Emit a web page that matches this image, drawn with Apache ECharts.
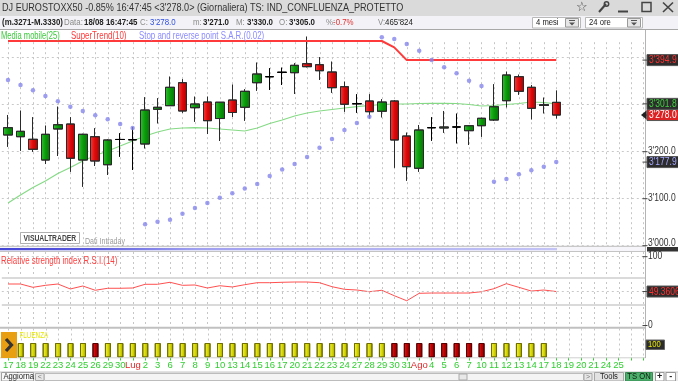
<!DOCTYPE html>
<html><head><meta charset="utf-8">
<script src="https://cdn.jsdelivr.net/npm/echarts@6/dist/echarts.min.js"></script>
<style>html,body{margin:0;padding:0;background:#fff;overflow:hidden}#c{width:678px;height:381px}</style>
</head><body><div id="c"></div>
<script>
// ---------- DATA ----------
const dayKeys = ['06-17','06-18','06-19','06-22','06-23','06-24','06-25','06-26','06-29','06-30',
 '07-01','07-02','07-03','07-06','07-07','07-08','07-09','07-10','07-13','07-14','07-15','07-16','07-17','07-20','07-21','07-22','07-23','07-24','07-27','07-28','07-29','07-30','07-31',
 '08-03','08-04','08-05','08-06','08-07','08-10','08-11','08-12','08-13','08-14','08-17','08-18',
 '08-19','08-20','08-21','08-24','08-25','pad1','pad2'];
const dayLabels = ['17','18','19','22','23','24','25','26','29','30',
 'Lug','2','3','6','7','8','9','10','13','14','15','16','17','20','21','22','23','24','27','28','29','30','31',
 'Ago','4','5','6','7','10','11','12','13','14','17','18',
 '19','20','21','24','25','',''];
const monthLabels = ['Lug','Ago'];

const opens  = [3235.5,3231.9,3226.4,3182.3,3248.3,3258.9,3182.3,3231.9,3172.3,3226.0,3225.5,3216.4,3290.2,3297.9,3346.8,3293.6,3305.7,3270.6,3310.0,3294.5,3346.8,3359.6,3368.9,3368.1,3387.2,3385.1,3369.6,3338.3,3302.1,3307.9,3286.0,3307.9,3233.4,3164.7,3251.1,3250.4,3252.6,3244.7,3255.3,3267.4,3308.5,3359.6,3337.0,3298.3,3305.0];
const closes = [3251.1,3243.4,3205.1,3237.0,3257.4,3186.0,3237.0,3180.2,3224.9,3226.0,3225.5,3288.7,3294.5,3337.0,3286.6,3301.5,3266.0,3305.3,3283.4,3328.5,3365.3,3359.6,3368.9,3383.8,3380.9,3372.3,3336.2,3300.9,3302.1,3285.1,3305.7,3224.9,3168.1,3246.2,3251.1,3252.6,3252.6,3255.3,3271.1,3295.7,3363.2,3328.5,3292.3,3300.0,3278.0];
const lows   = [3210.6,3202.1,3200.0,3173.8,3190.9,3157.4,3125.5,3169.6,3150.4,3189.4,3161.1,3207.2,3260.4,3297.9,3283.0,3263.8,3237.7,3222.8,3273.8,3266.0,3329.8,3331.3,3341.9,3322.8,3379.6,3352.6,3325.5,3285.1,3283.0,3271.1,3273.2,3166.0,3138.3,3157.4,3223.4,3240.4,3217.9,3214.3,3231.9,3266.0,3294.5,3321.3,3268.9,3281.7,3271.0];
const highs  = [3278.1,3287.2,3273.2,3255.3,3295.7,3273.2,3238.0,3249.8,3226.0,3239.1,3252.6,3315.7,3313.6,3359.6,3354.0,3317.0,3317.0,3305.7,3342.6,3332.8,3389.4,3377.5,3378.7,3388.1,3444.7,3400.9,3391.5,3348.9,3322.1,3322.1,3311.5,3309.0,3240.4,3256.8,3273.2,3286.6,3280.9,3256.0,3272.0,3343.4,3370.2,3363.8,3341.9,3314.9,3330.0];

const movingAvg25 = [3090.9,3107.9,3123.8,3137.7,3153.6,3166.4,3180.2,3191.9,3201.5,3212.1,3222.8,3233.4,3241.9,3248.3,3250.4,3251.1,3250.4,3248.3,3246.2,3244.0,3250.4,3260.0,3267.4,3276.0,3282.3,3286.6,3289.8,3293.0,3295.7,3298.3,3300.4,3301.5,3301.5,3302.6,3303.0,3303.0,3302.6,3300.4,3297.2,3298.3,3300.4,3302.6,3305.7,3304.7,3301.8];
const superTrend10 = [3435.5,3435.5,3435.5,3435.5,3435.5,3435.5,3435.5,3435.5,3435.5,3435.5,3435.5,3435.5,3435.5,3435.5,3435.5,3435.5,3435.5,3435.5,3435.5,3435.5,3435.5,3435.5,3435.5,3435.5,3435.5,3435.5,3435.5,3435.5,3435.5,3435.5,3435.5,3422.0,3394.9,3394.9,3394.9,3394.9,3394.9,3394.9,3394.9,3394.9,3394.9,3394.9,3394.9,3394.9,3394.9];
const sar = [3352.6,3341.9,3330.6,3318.5,3307.2,3295.7,3286.6,3277.4,3268.9,3258.9,3250.4,3045.5,3051.1,3055.3,3068.1,3080.2,3090.9,3102.1,3111.5,3121.7,3131.3,3148.3,3162.1,3173.8,3188.7,3208.5,3227.0,3246.2,3261.1,3274.5,3443.4,3439.8,3429.1,3414.9,3395.1,3379.6,3366.8,3351.1,3339.8,3136.2,3141.9,3151.9,3160.4,3168.1,3177.9];
const rsi14 = [60.3,60.3,55.5,58.4,60.3,53.1,57.4,51.2,54.1,54.1,54.5,59.9,59.9,62.8,58.4,58.9,54.5,57.8,56.0,59.3,62.2,62.2,62.8,63.2,63.2,62.2,56.4,52.6,51.6,49.1,51.2,43.3,36.0,46.8,47.2,47.2,47.2,47.2,49.1,53.5,60.8,55.5,50.1,51.6,49.3606];
const tsState = ['Y','Y','Y','Y','Y','Y','Y','R','Y','Y','Y','Y','Y','Y','Y','Y','Y','Y','Y','Y','Y','Y','Y','Y','Y','Y','Y','Y','Y','Y','Y','R','R','R','R','R','R','R','R','Y','Y','Y','Y','Y',null];
const tsValue = [100,100,100,100,100,100,100,100,100,100,100,100,100,100,100,100,100,100,100,100,100,100,100,100,100,100,100,100,100,100,100,100,100,100,100,100,100,100,100,100,100,100,100,100,null];

const priceTicks = [3000, 3100, 3200];
const rsiTicks = [0, 100];
const rsiDashed = [100, 50];
const rsiBands = [70, 30];

// axis ranges
const priceRange = [3000, 3460];
const rsiRange = [-3.6, 106.8];
const tsRange = [0, 200];

// ---------- CHART ----------
const FONT = '"Liberation Sans", Arial, sans-serif';
const chart = echarts.init(document.getElementById('c'), null, {renderer:'canvas'});
const grad = (a,b,c) => ({type:'linear',x:0,y:0,x2:1,y2:0,colorStops:[{offset:0,color:a},{offset:0.5,color:b},{offset:1,color:c}]});
const GREEN = grad('#34c234','#0a9a0a','#057505');
const RED = grad('#ff3c3c','#dc0a0a','#ad0000');
const TSY = grad('#f4f46a','#dada00','#a4a400');
const TSR = grad('#e02a2a','#c00000','#8c0000');

const GL = 1.8, GW = 647.9;
const grids = [
  {left:GL, top:29.5, width:GW, height:216.2},
  {left:GL, top:252, width:GW, height:76},
  {left:GL, top:328.5, width:GW, height:29}
];
function xAx(gi, labels){
  return {type:'category', gridIndex:gi, data:dayKeys, boundaryGap:true,
    axisLine:{show:false},
    axisTick:{show:labels, alignWithLabel:true, interval:0, length:3, lineStyle:{color:'#33cc33'}},
    axisLabel:{show:labels, interval:0, margin:3, fontSize:9.5, fontFamily:FONT,
      formatter:(v,i)=>dayLabels[i],
      color:(v,i)=> monthLabels.indexOf(dayLabels[i])>=0 ? '#e02828' : '#2fcf2f'},
    splitLine:{show:false}};
}
// vertical dotted grid lines through every category centre
function vLines(gi, lo, hi){
  return {type:'custom', xAxisIndex:gi, yAxisIndex:gi, silent:true, z:0, clip:false,
    data: dayKeys.map((k,i)=>[i, lo]), encode:{x:0, y:1},
    renderItem:(params, api)=>{
      const i = api.value(0);
      const a = api.coord([i, hi]), b = api.coord([i, lo]);
      const x = Math.round(a[0]) + 0.5;
      return {type:'line', shape:{x1:x, y1:a[1], x2:x, y2:b[1]}, style:{stroke:'#c6c6c6', lineWidth:1, lineDash:[2,3]}};
    }};
}
const candleData = opens.map((o,i)=>[o, closes[i], lows[i], highs[i]]);
const tsData = tsValue.map((v,i)=> v==null ? '-' : {value:v, itemStyle:{color: tsState[i]==='R'?TSR:TSY, borderColor: tsState[i]==='R'?'#5a0000':'#707000', borderWidth:1}});

chart.setOption({
  animation:false,
  backgroundColor:'#ffffff',
  grid: grids,
  xAxis:[xAx(0,false), xAx(1,false), xAx(2,true)],
  yAxis:[
    {type:'value', gridIndex:0, position:'right', min:priceRange[0], max:priceRange[1], interval:100, scale:true,
     axisLine:{show:false}, axisTick:{show:false}, axisLabel:{show:false},
     splitLine:{show:true, showMaxLine:false, lineStyle:{color:'#c9c9c9', type:[2,3]}}},
    {type:'value', gridIndex:1, position:'right', min:rsiRange[0], max:rsiRange[1],
     axisLine:{show:false}, axisTick:{show:false}, axisLabel:{show:false}, splitLine:{show:false}},
    {type:'value', gridIndex:2, position:'right', min:tsRange[0], max:tsRange[1],
     axisLine:{show:false}, axisTick:{show:false}, axisLabel:{show:false}, splitLine:{show:false}}
  ],
  series:[
    vLines(0, priceRange[0], 3433),
    vLines(1, rsiRange[0], rsiRange[1]),
    vLines(2, tsRange[0], tsRange[1]),
    {name:'Media mobile(25)', type:'line', xAxisIndex:0, yAxisIndex:0, data:movingAvg25, symbol:'none', z:1,
     lineStyle:{color:'#86da86', width:1.2}},
    {name:'Candles', type:'candlestick', xAxisIndex:0, yAxisIndex:0, data:candleData, barWidth:9, z:2,
     itemStyle:{color:GREEN, color0:RED, borderColor:'#2a2a2a', borderColor0:'#2a2a2a', borderColorDoji:'#000', borderWidth:1}},
    {name:'SuperTrend(10)', type:'line', xAxisIndex:0, yAxisIndex:0, data:superTrend10, symbol:'none', z:3,
     lineStyle:{color:'#ff3a3a', width:2}},
    {name:'S.A.R.', type:'scatter', xAxisIndex:0, yAxisIndex:0, data:sar, symbolSize:4.5, z:4,
     itemStyle:{color:'#8686ee'}},
    {name:'RSI', type:'line', xAxisIndex:1, yAxisIndex:1, data:rsi14, symbol:'none', z:3,
     lineStyle:{color:'#ff5050', width:1},
     markLine:{silent:true, symbol:'none', label:{show:false},
       data: rsiDashed.map(v=>({yAxis:v, lineStyle:{color:'#c9c9c9', type:[2,3], width:1}}))
        .concat(rsiBands.map(v=>({yAxis:v, lineStyle:{color:'#dadada', type:'solid', width:2}})))}},
    {name:'TS', type:'bar', xAxisIndex:2, yAxisIndex:2, data:tsData, barWidth:6, z:2}
  ]
});

// ---------- DECORATION / LABELS ----------
function T(x,y,text,fill,size,o){ o=o||{};
  return {type:'text', x:x, y:y, scaleX:(o.sx==null?0.83:o.sx), z:o.z||130, silent:true,
    style:{text:text, fill:fill, font:(o.bold?'bold ':'')+size+'px '+FONT, textAlign:o.align||'left', verticalAlign:'middle', textVerticalAlign:'middle'}};
}
function R(x,y,w,h,fill,stroke,z,lw){
  return {type:'rect', z:z||110, silent:true, shape:{x:x,y:y,width:w,height:h},
    style:{fill:fill||'none', stroke:stroke||null, lineWidth:lw||1}};
}
function L(x1,y1,x2,y2,stroke,w,z,dash){
  return {type:'line', z:z||115, silent:true, shape:{x1:x1,y1:y1,x2:x2,y2:y2},
    style:{stroke:stroke, lineWidth:w||1, lineDash:dash||null}};
}
function fmtP(v){ const th=Math.floor(v/1000); const r=(v-th*1000).toFixed(1); return th+"'"+('000'+r).slice(-5); }

const py = v => chart.convertToPixel({yAxisIndex:0}, v);
const ry = v => chart.convertToPixel({yAxisIndex:1}, v);
const ty = v => chart.convertToPixel({yAxisIndex:2}, v);
const last = a => a[a.length-1];

const g = [];
// title bar
g.push(R(0,0,678,16,'#dadada',null,100));
g.push(T(2,7.5,"DJ EUROSTOXX50 -0.85% 16:47:45 <3'278.0> (Giornaliera) TS: IND_CONFLUENZA_PROTETTO",'#333',11.5,{sx:0.79}));
g.push(T(582,7.5,'☆','#444',13,{sx:1,align:'center'}));
g.push(L(599,12,606,4,'#444',2));
g.push({type:'circle', z:116, silent:true, shape:{cx:606.5,cy:4,r:2.2}, style:{fill:'none',stroke:'#444',lineWidth:1.5}});
g.push(L(618,11.5,628,11.5,'#444',2));
g.push(R(642,2.5,9,9,null,'#444',116,1.5));
g.push(L(663,2.5,673,12,'#444',1.6));
g.push(L(673,2.5,663,12,'#444',1.6));
// info bar
g.push(R(0,16,678,14,'#f3f3f7',null,100));
g.push(L(0,29.5,678,29.5,'#a8a8a8',1,101));
const info = [
  [2,'(m.3271-M.3330)','#222',true],[64,'Data:','#8a8a8a',false],[84,'18/08 16:47:45','#222',true],
  [140,'C:','#8a8a8a',false],[150,"3'278.0",'#2f4fe0',false],
  [193,'m:','#8a8a8a',false],[203,"3'271.0",'#222',true],
  [236,'M:','#8a8a8a',false],[247,"3'330.0",'#222',true],
  [279,'O:','#8a8a8a',false],[289,"3'305.0",'#222',true],
  [326,'%:','#8a8a8a',false],[333,'-0.7%','#e03030',false],
  [378,'V:','#8a8a8a',false],[385,"465'824",'#222',false]
];
info.forEach(s=>g.push(T(s[0],22,s[1],s[2],9.5,{bold:s[3]})));
// dropdowns
[[532,580,'4 mesi'],[585,642,'24 ore']].forEach(d=>{
  g.push(R(d[0]+0.5,17.5,d[1]-d[0],10.5,'#ffffff','#b8b8b8',102));
  g.push(T(d[0]+4,22.8,d[2],'#222',9,{sx:0.85}));
  g.push(R(d[1]-14.5,18.5,13,8.5,'#e6e6e6','#9a9a9a',103));
  g.push(L(d[1]-11,20.5,d[1]-5,20.5,'#555',1,104));
  g.push({type:'polygon', z:104, silent:true, shape:{points:[[d[1]-11,22.5],[d[1]-5,22.5],[d[1]-8,25.5]]}, style:{fill:'#555'}});
});
// legend
g.push(T(1,36.3,'Media mobile(25)','#3cc83c',10,{sx:0.76}));
g.push(T(71,36.3,'SuperTrend(10)','#ff3838',10,{sx:0.79}));
g.push(T(139,36.3,'Stop and reverse point S.A.R.(0.02)','#8a8aff',10,{sx:0.79}));
// watermark
g.push(R(20.5,232.5,59,11,'#ffffff','#b0b0b0',105));
g.push(T(23.5,238.3,'VISUALTRADER','#444',8.2,{bold:true}));
g.push(T(85,242,'Dati Intraday','#9a9a9a',8.5));
// right cover + axis line
g.push(R(645.6,30,33,328,'#ffffff',null,108));
g.push(L(645.5,30,645.5,358,'#b4b4b4',1,109));
// separators
g.push(R(0,245.8,645.5,6,'#f6f6fa',null,106));
g.push(L(0,246.3,678,246.3,'#bdbdbd',1,107));
g.push({type:'rect', z:107, silent:true, shape:{x:0,y:248,width:557,height:2.2},
  style:{fill:{type:'linear',x:0,y:0,x2:1,y2:0,colorStops:[{offset:0,color:'#4646d6'},{offset:0.16,color:'#5a5add'},{offset:0.35,color:'#a0a0f0'},{offset:1,color:'#c4c4f6'}]}}});
g.push(L(0,251.5,678,251.5,'#c4c4c4',1,107));
g.push(L(0,327.8,645.5,327.8,'#c0c0c0',2,107));
g.push(L(0,357.8,645.5,357.8,'#cfcfcf',1,107));
g.push(R(647,247,33,4.5,'#333',null,112));
// price tick labels
priceTicks.forEach(v=>{ const y=Math.min(py(v),243);
  g.push(L(642.5,py(v),647.5,py(v),'#444',1,120));
  g.push(T(648,y,fmtP(v),'#333',10,{sx:0.85}));
});
// boxed value labels
const boxes = [
  {v:last(superTrend10), fg:'#ff3030', bg:'#2c2c2c'},
  {v:last(movingAvg25), fg:'#3fd03f', bg:'#2c2c2c'},
  {v:last(closes), fg:'#ffffff', bg:'#dc2222', ptr:true},
  {v:last(sar), fg:'#a4a8ff', bg:'#2c2c2c'}
];
boxes.forEach(b=>{ const y=py(b.v);
  g.push(L(642.5,y,647.5,y,'#444',1,120));
  g.push(R(647,y-5.5,34,11,b.bg,'#555',121));
  if(b.ptr) g.push({type:'polygon', z:122, silent:true, shape:{points:[[646.5,y-4.5],[646.5,y+4.5],[641,y]]}, style:{fill:'#222'}});
  g.push(T(649,y+0.5,fmtP(b.v),b.fg,10,{sx:0.85,z:123}));
});
// RSI labels
g.push(T(1,261.5,'Relative strength index R.S.I.(14)','#ff4040',10,{sx:0.79}));
rsiTicks.forEach(v=>{ g.push(L(642.5,ry(v),647.5,ry(v),'#444',1,120)); g.push(T(648,ry(v),String(v),'#333',10,{sx:0.85})); });
(function(){ const v=last(rsi14), y=ry(v);
  g.push(L(642.5,y,647.5,y,'#444',1,120));
  g.push(R(647,y-5.5,34,11,'#2c2c2c','#555',121));
  g.push(T(649,y+0.5,v.toFixed(4),'#ff3030',10,{sx:0.85,z:123}));
})();
// TS panel
g.push(R(1,332,16,26,'#e8a012',null,125));
g.push({type:'polyline', z:126, silent:true, shape:{points:[[6,339],[11.5,345],[6,351]]}, style:{stroke:'#333',lineWidth:3.2,fill:'none'}});
g.push(T(19.5,336,'FLUENZA','#e6e600',9,{sx:0.7}));
(function(){ const y=ty(100)+1.5;
  g.push(R(646,y-4.5,18.5,9.5,'#2c2c2c','#666',121));
  g.push(T(648,y+0.3,'100','#e8e800',9,{sx:0.85,z:123}));
})();
// bottom strip
g.push(R(0,372,678,9,'#ececec',null,100));
g.push(L(0,372,678,372,'#c4c4c4',1,101));
g.push(R(1.5,372.5,32,8.5,'#f8f8f8','#a0a0a0',102));
g.push(T(3.5,377,'Aggiorna','#222',8.5,{sx:0.9}));
g.push(R(35.5,373.5,8.5,7,'#e6e6e6','#a8a8a8',102));
g.push(T(39.7,377,'<','#777',7,{sx:1,align:'center'}));
g.push(R(44.5,373.5,539,7,'#f4f4f4','#bcbcbc',102));
g.push(R(459,374,8,6,'#e8e8e8','#aaa',103));
g.push(R(584,373.5,8,7,'#e6e6e6','#a8a8a8',102));
g.push(T(588,377,'>','#777',7,{sx:1,align:'center'}));
g.push(R(594.5,372.5,29,8.5,'#e2e2e2','#a8a8a8',102));
g.push(T(609,377,'Tools','#222',8.5,{sx:0.9,align:'center'}));
g.push(R(625.5,372.5,27,8.5,'#4bb06c','#3a8a54',102));
g.push(T(639,377,'TS ON','#102010',8.5,{sx:0.9,align:'center'}));
g.push(R(655.5,372.5,8.5,8.5,'#ffffff','#999',102));
g.push(T(659.7,376.8,'+','#222',9,{sx:1,align:'center',bold:true}));
g.push(R(666,372.5,9.5,8.5,'#ffffff','#999',102));
g.push(T(670.7,376.6,'-','#222',9,{sx:1,align:'center',bold:true}));

chart.setOption({graphic: g});
</script></body></html>
